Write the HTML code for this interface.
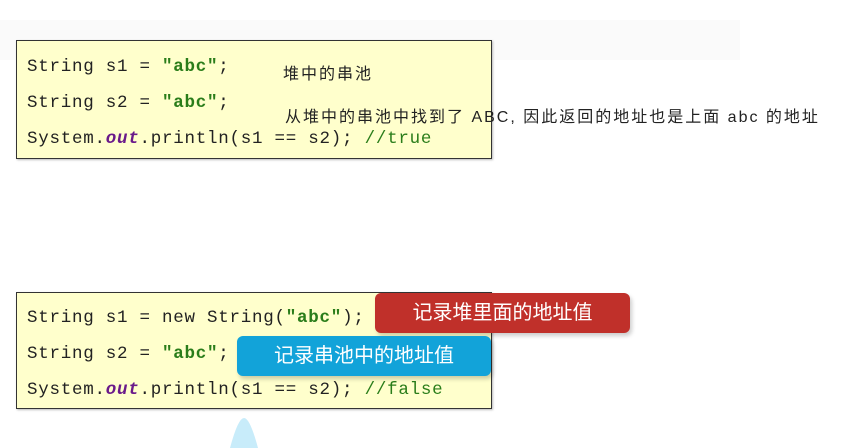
<!DOCTYPE html>
<html><head><meta charset="utf-8"><style>
body{margin:0;width:864px;height:448px;background:#fff;position:relative;overflow:hidden;font-family:"Liberation Mono",monospace}
.band{position:absolute;left:0;top:20px;width:740px;height:40px;background:#fafafa}
.box{position:absolute;left:16px;width:474px;background:#ffffcc;border:1px solid #333;box-shadow:1px 1px 2px #bbb}
.l{position:absolute;left:10px;font-size:17.5px;color:#222;white-space:pre;letter-spacing:0.75px}
.g{color:#2a7d1a;font-weight:bold}.c{color:#2a7d1a}.o{color:#6a1a8a;font-style:italic;font-weight:bold}
.cn{position:absolute;font-family:"Liberation Sans","Noto Sans CJK SC",sans-serif;font-size:16px;letter-spacing:2px;color:#222;white-space:nowrap}
.tag{position:absolute;color:#fff;font-family:"Liberation Sans","Noto Sans CJK SC",sans-serif;font-size:20px;text-align:center;border-radius:6px;box-shadow:2px 3px 4px rgba(0,0,0,.2)}
</style></head><body>
<div class="band"></div>
<div class="box" style="top:40px;height:117px">
<div class="l" style="top:16px">String s1 = <span class="g">"abc"</span>;</div>
<div class="l" style="top:52px">String s2 = <span class="g">"abc"</span>;</div>
<div class="l" style="top:88px">System.<span class="o">out</span>.println(s1 == s2); <span class="c">//true</span></div>
</div>
<div class="cn" style="left:283px;top:60px">堆中的串池</div>
<div class="cn" style="left:285px;top:103px">从堆中的串池中找到了 ABC, 因此返回的地址也是上面 abc 的地址</div>
<div class="box" style="top:292px;height:115px">
<div class="l" style="top:15px">String s1 = new String(<span class="g">"abc"</span>);</div>
<div class="l" style="top:51px">String s2 = <span class="g">"abc"</span>;</div>
<div class="l" style="top:87px">System.<span class="o">out</span>.println(s1 == s2); <span class="c">//false</span></div>
</div>
<div class="tag" style="left:375px;top:293px;width:255px;height:40px;line-height:40px;background:#c0302a">记录堆里面的地址值</div>
<div class="tag" style="left:237px;top:336px;width:254px;height:40px;line-height:40px;background:#12a3d9">记录串池中的地址值</div>
<svg style="position:absolute;left:228px;top:414px" width="32" height="34"><path d="M2 34 Q10 4 16 4 Q22 4 30 34 Z" fill="#c8ecfa"/></svg>
</body></html>
